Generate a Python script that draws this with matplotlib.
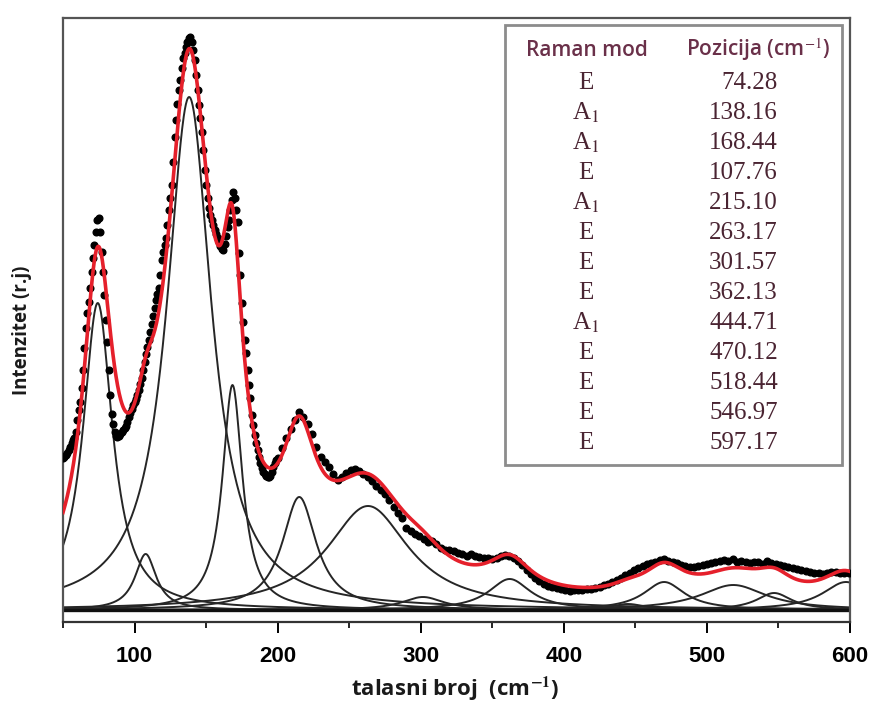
import numpy as np
import matplotlib
matplotlib.use("Agg")
import matplotlib.pyplot as plt
from matplotlib.patches import Rectangle
from matplotlib.ticker import MultipleLocator

plt.rcParams['mathtext.fontset'] = 'stix'

# ---- Lorentzian components (positions from the table) ----
modes = ['E', 'A$_1$', 'A$_1$', 'E', 'A$_1$', 'E', 'E', 'E', 'A$_1$', 'E', 'E', 'E', 'E']
centers = [74.28, 138.16, 168.44, 107.76, 215.10, 263.17, 301.57, 362.13,
           444.71, 470.12, 518.44, 546.97, 597.17]
heights = [307, 513, 225, 56, 113, 104, 13, 31, 6, 28, 25, 17, 28]
hwhm = [12.5, 19, 8.5, 9, 14.5, 35, 18, 18, 15, 17.5, 28, 15, 20]
offset = 4

# ---- measured spectrum, low range: every 1 cm^-1 from 50 ----
low_start, low_step = 50, 1
low_y = [152, 153, 155, 157, 160, 163, 167, 170, 172, 178,
         190, 200, 208, 222, 240, 262, 282, 297, 308, 322,
         338, 352, 365, 378, 390, 392, 378, 358, 338, 315,
         290, 268, 240, 215, 196, 186, 178, 174, 173, 174,
         176, 178, 180, 182, 184, 188, 193, 197, 201, 205,
         208, 211, 215, 220, 226, 232, 240, 248, 256, 263,
         270, 278, 286, 294, 302, 310, 316, 322, 335, 350,
         358, 365, 372, 385, 400, 412, 425, 448, 473, 490,
         506, 520, 530, 542, 552, 557, 563, 568, 572, 573,
         568, 560, 550, 535, 520, 505, 492, 478, 460, 440,
         425, 412, 402, 395, 390, 385, 380, 376, 372, 368,
         364, 361, 360, 366, 374, 383, 390, 400, 410, 418,
         412, 400, 388, 357, 335, 307, 288, 270, 257, 240,
         225, 212, 195, 185, 175, 167, 160, 153, 147, 142,
         138, 136, 134, 133, 133, 134, 138, 143, 147, 150]
# ---- measured spectrum, high range: every 3 cm^-1 from 200 ----
high_start, high_step = 200, 3
high_y = [152, 162, 172, 181, 190, 198, 193, 186, 176, 163,
          153, 148, 143, 136, 130, 133, 137, 140, 141, 139,
          136, 133, 129, 124, 120, 116, 110, 103, 97, 92,
          82, 79, 76, 74, 71, 68, 69, 66, 62, 60,
          60, 59, 57, 56, 54, 56, 54, 53, 52, 52,
          51, 52, 54, 55, 54, 52, 49, 45, 40, 36,
          32, 29, 26, 24, 23, 22, 21, 20, 19, 20,
          20, 20, 21, 21, 22, 23, 25, 26, 28, 30,
          32, 35, 37, 40, 42, 44, 46, 47, 48, 50,
          51, 49, 48, 47, 45, 44, 43, 43, 44, 45,
          46, 47, 48, 49, 50, 49, 51, 48, 49, 48,
          47, 48, 48, 46, 49, 47, 46, 45, 44, 43,
          42, 41, 40, 39, 38, 37, 37, 36, 37, 38,
          38, 37, 37, 37]
data_x = np.concatenate([low_start + low_step * np.arange(len(low_y)),
                         high_start + high_step * np.arange(len(high_y))])
data_y = np.array(low_y + high_y, dtype=float)

xticks = [100, 200, 300, 400, 500, 600]

W, H = 875, 705
fig = plt.figure(figsize=(W / 100, H / 100), dpi=100)
ax = fig.add_axes([63 / W, 1 - 622 / H, (850 - 63) / W, (622 - 18) / H])

xs = np.linspace(50, 600, 1500)
total = np.zeros_like(xs) + offset
for c, h, g in zip(centers, heights, hwhm):
    comp = h / (1 + ((xs - c) / g) ** 2)
    total += comp
    ax.plot(xs, comp, color='#262626', lw=1.4, zorder=2)
ax.axhline(0, color='#111111', lw=2.4, zorder=2)

ax.plot(data_x, data_y, 'o', color='black', ms=4.8, mec='black', zorder=3)
ax.plot(xs, total, color='#e5202b', lw=2.6, zorder=4)

ax.set_xlim(50, 600)
ax.set_ylim(-12, 592)
ax.set_yticks([])
ax.xaxis.set_minor_locator(MultipleLocator(50))
ax.tick_params(axis='x', which='major', direction='out', length=8, width=1.4, pad=9)
ax.tick_params(axis='x', which='minor', direction='out', length=4.5, width=1.2)
ax.set_xticks(xticks)
ax.set_xticklabels([str(t) for t in xticks],
                   fontdict=dict(family=['Liberation Sans Narrow', 'Liberation Sans', 'DejaVu Sans'],
                                 weight='bold', size=16))
for s in ax.spines.values():
    s.set_color('#555555')
    s.set_linewidth(1.6)
ax.spines['bottom'].set_color('#333333')

fig.text(455 / W, 1 - 689 / H, 'talasni broj  (cm$^{\\mathbf{-1}}$)', ha='center', va='center',
         family=['Open Sans', 'DejaVu Sans'], weight='bold', size=16, color='#1a1a1a')
fig.text(22 / W, 1 - 330 / H, 'Intenzitet (r.j)', ha='center', va='center', rotation=90,
         family=['Open Sans', 'DejaVu Sans'], weight='bold', size=13.5, color='#1a1a1a')

# ---- inset table ----
ax.add_patch(Rectangle(((505 - 63) / 787, 1 - (465 - 18) / 604), (842 - 505) / 787, (465 - 25) / 604,
                       transform=ax.transAxes, facecolor='white', edgecolor='#8c8c8c', lw=2.0, zorder=5))
hdr_col = '#6a3049'
row_col = '#4a2432'
fig.text(587 / W, 1 - 50 / H, 'Raman mod', ha='center', va='center', color=hdr_col,
         family=['Open Sans', 'DejaVu Sans'], weight='semibold', size=15, zorder=6)
fig.text(758 / W, 1 - 50 / H, 'Pozicija (cm$^{-1}$)', ha='center', va='center', color=hdr_col,
         family=['Open Sans', 'DejaVu Sans'], weight='semibold', size=15, zorder=6)
for i, (m, c) in enumerate(zip(modes, centers)):
    yy = 1 - (83 + 30 * i) / H
    fig.text(586 / W, yy, m, ha='center', va='center', color=row_col,
             family=['Liberation Serif', 'DejaVu Serif'], size=18, zorder=6)
    fig.text(778 / W, yy, f'{c:.2f}', ha='right', va='center', color=row_col,
             family=['Liberation Serif', 'DejaVu Serif'], size=18, zorder=6)

fig.savefig('out.png', dpi=100)
